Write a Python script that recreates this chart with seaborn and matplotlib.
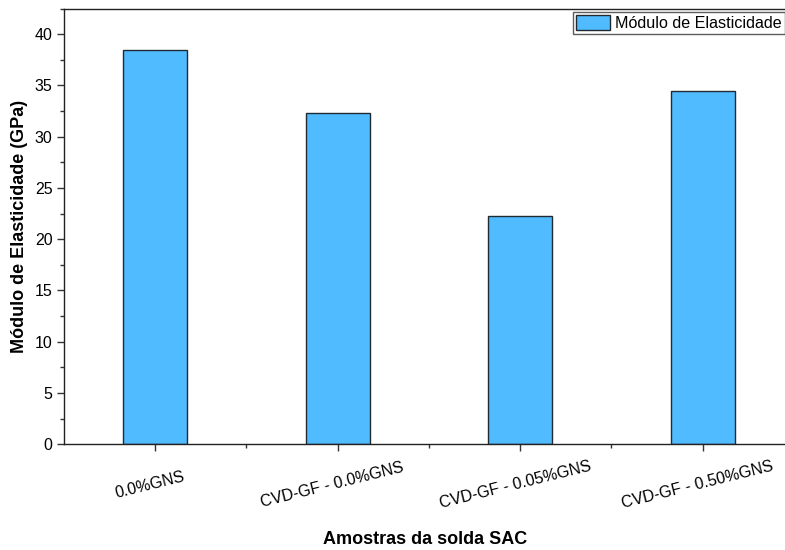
import matplotlib
matplotlib.use("Agg")
import matplotlib.pyplot as plt
from matplotlib.ticker import MultipleLocator, FixedLocator
from matplotlib.transforms import ScaledTranslation
import seaborn as sns
import pandas as pd

categories = ["0.0%GNS", "CVD-GF - 0.0%GNS", "CVD-GF - 0.05%GNS", "CVD-GF - 0.50%GNS"]
modulus = [38.45, 32.3, 22.3, 34.5]
series_name = "Módulo de Elasticidade"

df = pd.DataFrame({"amostra": categories, "modulo": modulus})

sns.set_theme(style="ticks")
plt.rcParams["font.family"] = ["Liberation Sans", "DejaVu Sans"]
plt.rcParams["text.color"] = "black"
plt.rcParams["axes.labelcolor"] = "black"

W, H = 785, 550
fig = plt.figure(figsize=(W / 100, H / 100), dpi=100)
ax = fig.add_axes([63.7 / W, (H - 444.3) / H, (794 - 63.7) / W, (444.3 - 8.5) / H])

bar_color = "#50BBFF"
sns.barplot(data=df, x="amostra", y="modulo", ax=ax, color=bar_color,
            width=0.35, edgecolor="#1f2a33", linewidth=1.0, label=series_name,
            saturation=1)

ax.set_xlim(-0.5, 3.5)
ax.set_ylim(0, 42.5)
ax.yaxis.set_major_locator(MultipleLocator(5))
ax.yaxis.set_minor_locator(MultipleLocator(2.5))
ax.xaxis.set_minor_locator(FixedLocator([0.5, 1.5, 2.5]))

for side in ["left", "bottom", "top", "right"]:
    ax.spines[side].set_color("#222222")
    ax.spines[side].set_linewidth(1.0)

ax.tick_params(axis="both", which="major", direction="out", length=5, width=1,
               color="#333333", labelsize=11.5, labelcolor="black")
ax.tick_params(axis="both", which="minor", direction="out", length=3, width=1,
               color="#333333")
ax.tick_params(axis="y", which="major", pad=3)
ax.tick_params(axis="x", which="major", pad=24)

ax.set_xticks(range(len(categories)))
ax.set_xticklabels(categories, rotation=14, rotation_mode="anchor",
                   ha="center", va="center", fontsize=11.5)
shift = ScaledTranslation(-5 / 100, 0, fig.dpi_scale_trans)
for lbl in ax.get_xticklabels():
    lbl.set_transform(lbl.get_transform() + shift)

ax.set_xlabel("Amostras da solda SAC", fontsize=13, fontweight="bold", va="center")
ax.xaxis.set_label_coords((425 - 63.7) / (794 - 63.7), (444.3 - 539) / (444.3 - 8.5))
ax.set_ylabel("Módulo de Elasticidade (GPa)", fontsize=13, fontweight="bold", va="center")
ax.yaxis.set_label_coords((20 - 63.7) / (794 - 63.7), (444.3 - 226) / (444.3 - 8.5))

leg = ax.legend(loc="upper left", bbox_to_anchor=(573 / W, 1 - 12 / H),
                bbox_transform=fig.transFigure, borderaxespad=0, frameon=True,
                fancybox=False, fontsize=11.6, handlelength=2.1, handleheight=1.05,
                borderpad=0.2, handletextpad=0.3)
leg.get_frame().set_edgecolor("#333333")
leg.get_frame().set_linewidth(1.0)

fig.savefig("out.png", dpi=100)
